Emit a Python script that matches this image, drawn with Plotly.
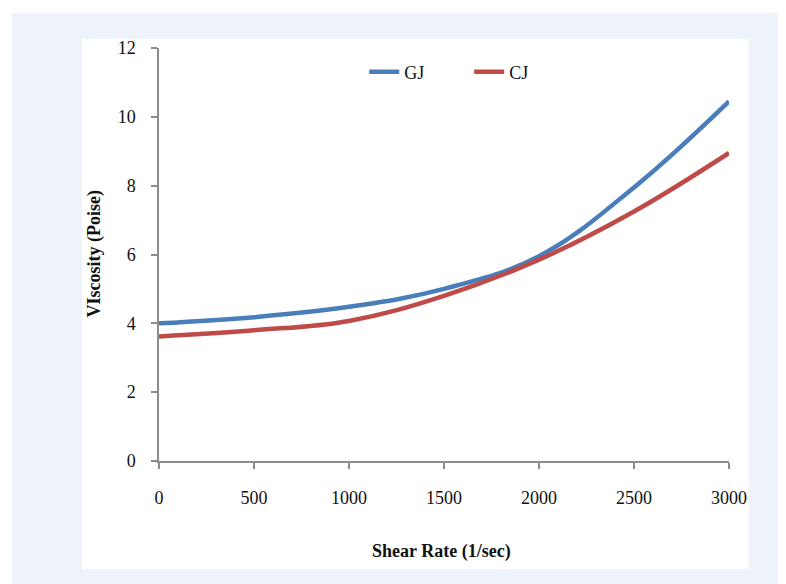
import plotly.graph_objects as go

shear_rate = [0, 500, 1000, 1500, 2000, 2500, 3000]
gj_viscosity = [4.0, 4.18, 4.48, 5.0, 5.95, 7.95, 10.45]
cj_viscosity = [3.62, 3.8, 4.07, 4.8, 5.85, 7.25, 8.95]

x_ticks = [0, 500, 1000, 1500, 2000, 2500, 3000]
y_ticks = [0, 2, 4, 6, 8, 10, 12]

FONT = "Liberation Serif"
AXIS_COLOR = "#8c8c8c"
TEXT_COLOR = "#111111"

fig = go.Figure()
fig.add_trace(go.Scatter(x=shear_rate, y=gj_viscosity, name="GJ", mode="lines",
                         line=dict(color="#4a7ebb", width=4.5, shape="spline", smoothing=1.1)))
fig.add_trace(go.Scatter(x=shear_rate, y=cj_viscosity, name="CJ", mode="lines",
                         line=dict(color="#be4b48", width=4.5, shape="spline", smoothing=1.1)))

fig.update_layout(
    width=786, height=584,
    margin=dict(l=151, r=65, t=40, b=131),
    paper_bgcolor="white",
    plot_bgcolor="rgba(0,0,0,0)",
    font=dict(family=FONT, size=17, color=TEXT_COLOR),
    showlegend=True,
    legend=dict(orientation="h", x=0.36, y=0.942, xanchor="left", yanchor="middle",
                bgcolor="rgba(0,0,0,0)", font=dict(family=FONT, size=18, color=TEXT_COLOR),
                itemwidth=30, tracegroupgap=0, entrywidth=60, entrywidthmode="pixels"),
    shapes=[
        dict(type="rect", xref="paper", yref="paper", x0=-0.258, x1=1.2, y0=-0.4, y1=1.0847,
             fillcolor="#eef2fa", line=dict(width=0), layer="below"),
        dict(type="rect", xref="paper", yref="paper", x0=-0.1351, x1=1.0351, y0=-0.2615, y1=1.0218,
             fillcolor="white", line=dict(width=0), layer="below"),
    ],
    annotations=[
        dict(text="<b>VIscosity (Poise)</b>", xref="paper", yref="paper", x=-0.114, y=0.5,
             textangle=-90, showarrow=False, font=dict(family=FONT, size=18, color=TEXT_COLOR),
             xanchor="center", yanchor="middle"),
        dict(text="<b>Shear Rate (1/sec)</b>", xref="paper", yref="paper", x=0.495, y=-0.218,
             showarrow=False, font=dict(family=FONT, size=18, color=TEXT_COLOR),
             xanchor="center", yanchor="middle"),
    ],
)

fig.update_xaxes(range=[0, 3000], tickvals=x_ticks, ticktext=[str(v) for v in x_ticks],
                 showgrid=False, zeroline=False, showline=True, linecolor=AXIS_COLOR, linewidth=1.5,
                 ticks="outside", ticklen=6, tickcolor=AXIS_COLOR, tickwidth=1.5,
                 ticklabelstandoff=14, tickfont=dict(family=FONT, size=18, color=TEXT_COLOR))
fig.update_yaxes(range=[0, 12], tickvals=y_ticks, ticktext=[str(v) for v in y_ticks],
                 showgrid=False, zeroline=False, showline=True, linecolor=AXIS_COLOR, linewidth=1.5,
                 ticks="outside", ticklen=6, tickcolor=AXIS_COLOR, tickwidth=1.5,
                 ticklabelstandoff=12, tickfont=dict(family=FONT, size=18, color=TEXT_COLOR))

fig.write_html("out.html")
